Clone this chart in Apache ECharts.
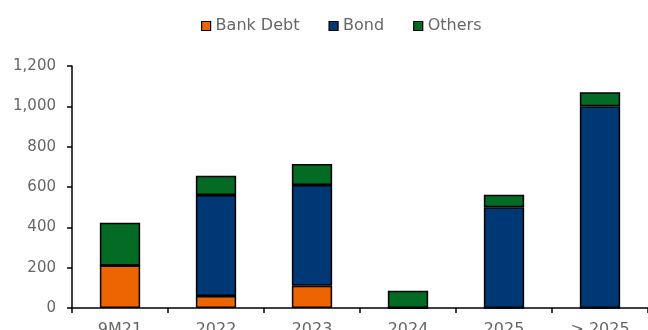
<!DOCTYPE html>
<html><head><meta charset="utf-8">
<script src="https://cdn.jsdelivr.net/npm/echarts@6/dist/echarts.min.js"></script>
<style>html,body{margin:0;padding:0;background:#fff}#c{width:648px;height:330px}</style>
</head><body><div id="c"></div>
<script>
const categories = ['9M21', '2022', '2023', '2024', '2025', '> 2025'];
const bankDebt = [211, 60, 110, 0, 0, 0];
const bond = [0, 500, 500, 0, 500, 1000];
const others = [212, 96, 104, 86, 62, 70];
const yTicks = [0, 200, 400, 600, 800, 1000, 1200];

const font = '"DejaVu Sans", sans-serif';
const txt = '#666666';
const chart = echarts.init(document.getElementById('c'), null, {renderer: 'canvas'});
const mk = (name, data, color) => ({
  name, type: 'bar', stack: 'a', data, barWidth: '42%',
  itemStyle: {color, borderColor: '#000', borderWidth: 1.5},
  emphasis: {disabled: true}
});
chart.setOption({
  animation: false,
  legend: {
    top: 13, left: 196, icon: 'rect', itemWidth: 9, itemHeight: 9, itemGap: 29,
    textStyle: {color: txt, fontSize: 16, fontFamily: font, padding: [0, 0, 0, 0]},
    itemStyle: {borderColor: '#000', borderWidth: 1.2}
  },
  grid: {left: 72, right: 0, top: 66, bottom: 22, containLabel: false, outerBoundsMode: 'none'},
  xAxis: {
    type: 'category', data: categories,
    axisLine: {lineStyle: {color: '#000', width: 1.5}},
    axisTick: {show: true, length: 5, lineStyle: {color: '#000', width: 1.5}},
    axisLabel: {color: txt, fontSize: 16, fontFamily: font, margin: 14}
  },
  yAxis: {
    type: 'value', min: 0, max: yTicks[yTicks.length - 1], interval: 200,
    splitLine: {show: false},
    axisLine: {show: true, lineStyle: {color: '#000', width: 1.5}},
    axisTick: {show: true, length: 5, lineStyle: {color: '#000', width: 1.5}},
    axisLabel: {color: txt, fontSize: 15, fontFamily: font, margin: 16,
      formatter: v => v.toLocaleString('en-US')}
  },
  series: [
    mk('Bank Debt', bankDebt, '#ec6500'),
    mk('Bond', bond, '#003876'),
    mk('Others', others, '#036b24')
  ]
});
</script></body></html>
